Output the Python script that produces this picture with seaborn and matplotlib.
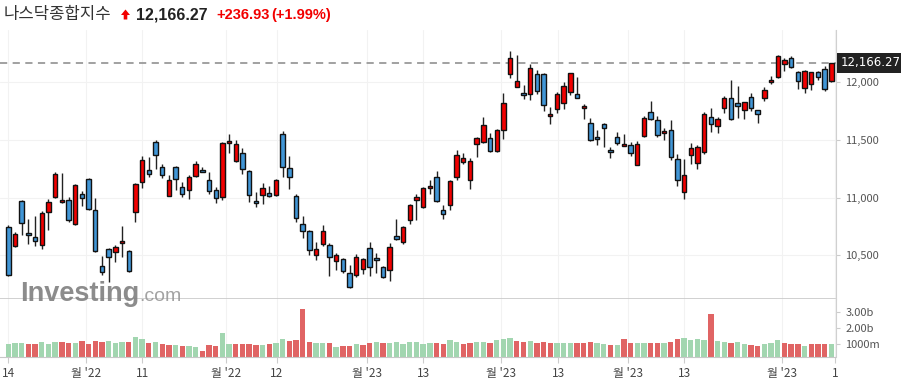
import numpy as np
import pandas as pd
import matplotlib
matplotlib.use("Agg")
import matplotlib.pyplot as plt
import matplotlib.transforms as mtrans
from matplotlib.patches import Polygon
import seaborn as sns

# daily candles (index points)
opens = [10745, 10581, 10970, 10693, 10658, 10589, 10875, 11005, 10961, 10979,
         10771, 11031, 11160, 10892, 10407, 10555, 10529, 10604, 10537, 10875,
         11135, 11238, 11481, 11264, 11013, 11264, 11091, 11065, 11186, 11238,
         11152, 11065, 11005, 11472, 11316, 11385, 11230, 10970, 11022, 11039,
         11022, 11550, 11256, 11013, 10771, 10710, 10503, 10598, 10589, 10451,
         10468, 10347, 10330, 10381, 10563, 10477, 10399, 10373, 10667, 10615,
         10806, 10979, 10918, 11083, 11178, 10892, 10935, 11178, 11308, 11152,
         11463, 11481, 11515, 11403, 11585, 12069, 11957, 11905, 11896, 12069,
         12069, 11706, 11766, 11818, 11913, 11896, 11775, 11645, 11524, 11636,
         11411, 11524, 11446, 11455, 11282, 11533, 11740, 11671, 11559, 11585,
         11334, 11048, 11368, 11299, 11394, 11697, 11619, 11775, 11862, 11818,
         11758, 11870, 11758, 11862, 12000, 12043, 12156, 12208, 12087, 11948,
         11983, 12087, 12113, 12009]
highs = [10765, 10702, 10979, 10817, 10840, 10886, 10990, 11218, 11212, 11002,
         11117, 11059, 11169, 11000, 10497, 10563, 10586, 10754, 10546, 11126,
         11360, 11351, 11498, 11293, 11198, 11273, 11134, 11198, 11316, 11264,
         11221, 11091, 11481, 11550, 11498, 11429, 11238, 11048, 11126, 11100,
         11160, 11576, 11360, 11031, 10840, 10719, 10615, 10762, 10607, 10520,
         10477, 10416, 10511, 10477, 10615, 10520, 10407, 10607, 10814, 10754,
         10944, 11028, 11091, 11152, 11230, 10935, 11152, 11411, 11385, 11342,
         11524, 11700, 11559, 11593, 11905, 12268, 12234, 11974, 12156, 12104,
         12078, 11784, 11913, 12000, 12078, 12043, 11810, 11688, 11585, 11645,
         11437, 11567, 11550, 11481, 11489, 11706, 11836, 11706, 11602, 11671,
         11377, 11334, 11469, 11455, 11740, 11775, 11697, 11879, 12017, 11965,
         11827, 11905, 11760, 11957, 12052, 12234, 12208, 12225, 12095, 12104,
         12087, 12095, 12138, 12170]
lows = [10318, 10575, 10679, 10598, 10581, 10557, 10722, 10995, 10955, 10785,
        10765, 10927, 10889, 10529, 10332, 10269, 10442, 10485, 10353, 10791,
        11083, 11178, 11250, 11169, 11010, 11065, 11005, 10984, 11183, 11218,
        11031, 10953, 10979, 11385, 11308, 11204, 10961, 10918, 10944, 11005,
        11010, 11178, 11074, 10788, 10650, 10503, 10459, 10581, 10321, 10373,
        10347, 10217, 10312, 10338, 10321, 10347, 10304, 10278, 10633, 10598,
        10771, 10806, 10909, 11031, 10961, 10814, 10892, 11152, 11290, 11074,
        11351, 11472, 11394, 11394, 11507, 12035, 11957, 11853, 11844, 11896,
        11749, 11636, 11732, 11766, 11887, 11862, 11680, 11489, 11455, 11437,
        11342, 11455, 11446, 11360, 11282, 11524, 11671, 11524, 11498, 11325,
        11100, 10987, 11290, 11247, 11377, 11567, 11559, 11732, 11671, 11688,
        11680, 11749, 11645, 11836, 11983, 12035, 12095, 12121, 11939, 11905,
        11931, 12017, 11922, 12000]
closes = [10332, 10684, 10780, 10676, 10624, 10866, 10961, 11204, 10979, 10806,
          11109, 10996, 10901, 10537, 10353, 10485, 10572, 10624, 10364, 11117,
          11325, 11204, 11368, 11195, 11150, 11160, 11031, 11178, 11293, 11221,
          11057, 11000, 11472, 11489, 11463, 11247, 11022, 10953, 11083, 11013,
          11152, 11264, 11178, 10823, 10710, 10545, 10555, 10710, 10485, 10503,
          10364, 10226, 10485, 10468, 10399, 10459, 10312, 10572, 10641, 10745,
          10935, 11005, 11083, 11100, 10970, 10858, 11143, 11368, 11342, 11316,
          11515, 11628, 11403, 11585, 11818, 12208, 12009, 11887, 12121, 11922,
          11801, 11723, 11896, 11965, 12078, 11862, 11792, 11498, 11507, 11602,
          11394, 11472, 11463, 11385, 11463, 11688, 11680, 11541, 11576, 11351,
          11152, 11195, 11429, 11437, 11723, 11636, 11680, 11862, 11680, 11792,
          11827, 11775, 11723, 11931, 12017, 12225, 12190, 12130, 12009, 12095,
          12087, 12043, 11939, 12166.27]
# volume in billions
volumes = [1.00, 1.06, 1.06, 1.00, 1.00, 1.13, 1.00, 1.13, 1.13, 1.06,
           1.06, 1.21, 1.00, 1.21, 1.13, 1.21, 1.06, 1.13, 1.13, 1.44,
           1.31, 1.06, 1.13, 1.00, 0.94, 0.94, 0.88, 0.88, 0.81, 0.56,
           0.94, 0.88, 1.69, 1.00, 1.00, 1.00, 1.00, 0.94, 0.94, 1.00,
           1.06, 1.31, 1.19, 1.25, 3.19, 1.13, 1.06, 1.06, 1.06, 0.81,
           0.88, 0.88, 1.00, 0.94, 1.06, 1.13, 1.06, 1.06, 1.13, 1.00,
           1.13, 1.13, 1.00, 1.06, 1.06, 1.00, 1.25, 1.13, 1.00, 1.06,
           1.13, 1.13, 1.06, 1.25, 1.31, 1.38, 1.19, 1.13, 1.19, 1.06,
           1.13, 1.06, 1.06, 1.06, 1.06, 1.06, 1.06, 1.13, 1.06, 1.00,
           0.94, 0.94, 1.31, 1.06, 1.06, 1.06, 1.06, 1.06, 1.06, 1.13,
           1.31, 1.38, 1.25, 1.31, 1.25, 2.88, 1.19, 1.13, 1.06, 1.13,
           1.00, 0.94, 0.88, 1.00, 1.06, 1.25, 1.06, 1.00, 1.00, 0.88,
           1.00, 1.00, 1.00, 1.00]

price_ticks = [10500, 11000, 11500, 12000]
vol_ticks = [1.0, 2.0, 3.0]
vol_tick_labels = ["1000m", "2.00b", "3.00b"]
date_ticks = [0, 11.6, 20.0, 32.5, 40.1, 53.6, 62.0, 73.6, 82.2, 92.6, 101.0, 115.6, 123.55]
date_labels = ["14", "월 '22", "11", "월 '22", "12", "월 '23", "13", "월 '23",
               "13", "월 '23", "13", "월 '23", "1"]
last_price = 12166.27
change = 236.93
change_pct = 1.99

RED = "#f20000"
BLUE = "#4196d6"
VOL_GREEN = "#a2d6b0"
VOL_RED = "#e06464"

sns.set_style("white")
plt.rcParams["font.family"] = ["Noto Sans CJK KR", "DejaVu Sans"]

df = pd.DataFrame({"open": opens, "high": highs, "low": lows,
                   "close": closes, "volume": volumes})
df["i"] = np.arange(len(df))
df["up"] = df["close"] >= df["open"]
df["vol_up"] = (df["close"].diff().fillna(1) >= 0).map({True: "up", False: "down"})

W, H = 901, 386
fig = plt.figure(figsize=(W / 100, H / 100), dpi=100)


def px_rect(l, t, r, b):
    return [l / W, 1 - b / H, (r - l) / W, (b - t) / H]


ax = fig.add_axes(px_rect(0, 30, 835.5, 299))
axv = fig.add_axes(px_rect(0, 299, 835.5, 357))

xlim = (-8.3 / 6.691, (835.5 - 8.3) / 6.691)

# ---- candles
ax.vlines(df["i"], df["low"], df["high"], color="#222222", lw=1.0, zorder=2)
body_lo = df[["open", "close"]].min(axis=1)
body_h = (df["close"] - df["open"]).abs().clip(lower=8)
ax.bar(df["i"], body_h, bottom=body_lo, width=0.66,
       color=np.where(df["up"], RED, BLUE), edgecolor="#111111",
       linewidth=1.0, zorder=3)
ax.axhline(last_price, color="#9a9a9a", lw=1.3, ls=(0, (4, 3)), zorder=1)

ax.set_xlim(*xlim)
ax.set_ylim(10122, 12452)
ax.set_xticks(date_ticks)
ax.set_yticks(price_ticks)
ax.yaxis.tick_right()
ax.set_yticklabels([f"{v:,}" for v in price_ticks])
ax.tick_params(axis="y", right=True, length=3, color="#cccccc",
               labelcolor="#555555", labelsize=8, pad=4)
ax.tick_params(axis="x", bottom=False, labelbottom=False)
ax.grid(True, color="#f2f2f2", lw=0.8)
ax.set_axisbelow(True)
for s in ["left", "top"]:
    ax.spines[s].set_visible(False)
ax.spines["right"].set_color("#d0d0d0")
ax.spines["bottom"].set_color("#c8c8c8")
ax.spines["bottom"].set_linewidth(1.2)

tr = mtrans.blended_transform_factory(ax.transAxes, ax.transData)
ax.text(1.006, last_price, f"{last_price:,.2f}", transform=tr, ha="left",
        va="center", color="white", fontsize=8.5, family="DejaVu Sans",
        bbox=dict(boxstyle="square,pad=0.28", fc="#222222", ec="none"),
        clip_on=False, zorder=5)

# ---- volume
sns.barplot(data=df, x="i", y="volume", hue="vol_up",
            palette={"up": VOL_GREEN, "down": VOL_RED}, dodge=False,
            width=0.8, saturation=1, linewidth=0, legend=False, ax=axv, zorder=2)
axv.set_xlim(*xlim)
axv.set_ylim(0.206, 3.83)
axv.set_xticks(date_ticks)
axv.set_xticklabels(date_labels)
axv.set_yticks(vol_ticks)
axv.set_yticklabels(vol_tick_labels)
axv.yaxis.tick_right()
axv.set_xlabel("")
axv.set_ylabel("")
axv.tick_params(axis="y", right=True, length=3, color="#cccccc",
                labelcolor="#555555", labelsize=8, pad=4)
axv.tick_params(axis="x", bottom=True, length=4, color="#cccccc",
                labelcolor="#444444", labelsize=8.5, pad=3)
axv.grid(True, axis="x", color="#f2f2f2", lw=0.8)
axv.set_axisbelow(True)
for s in ["left", "top"]:
    axv.spines[s].set_visible(False)
axv.spines["right"].set_color("#d0d0d0")
axv.spines["bottom"].set_color("#c8c8c8")

# ---- watermark
fig.text(20 / W, 1 - 301 / H, "Investing", fontsize=19.5, fontweight="bold",
         family="Liberation Sans", color="#808080", alpha=0.9, zorder=0)
fig.text(139 / W, 1 - 301 / H, ".com", fontsize=14,
         family="Liberation Sans", color="#999999", alpha=0.9, zorder=0)

# ---- header
ty = 1 - 15 / H
fig.text(4 / W, ty, "나스닥종합지수", fontsize=12, color="#333333", va="center")
arrow = [(121, 15), (125.5, 9.5), (130, 15), (127.3, 15), (127.3, 19.5),
         (123.7, 19.5), (123.7, 15)]
fig.patches.append(Polygon([(x / W, 1 - y / H) for x, y in arrow], closed=True,
                           transform=fig.transFigure, fc=RED, ec="none"))
fig.text(136 / W, ty, f"{last_price:,.2f}", fontsize=11.5, fontweight="bold",
         family="Liberation Sans", color="#222222", va="center")
fig.text(216 / W, ty, f"+{change:,.2f}", fontsize=10.5, fontweight="bold",
         family="Liberation Sans", color=RED, va="center")
fig.text(271 / W, ty, f"(+{change_pct:.2f}%)", fontsize=10.5, fontweight="bold",
         family="Liberation Sans", color=RED, va="center")

fig.savefig("out.png", dpi=100)
